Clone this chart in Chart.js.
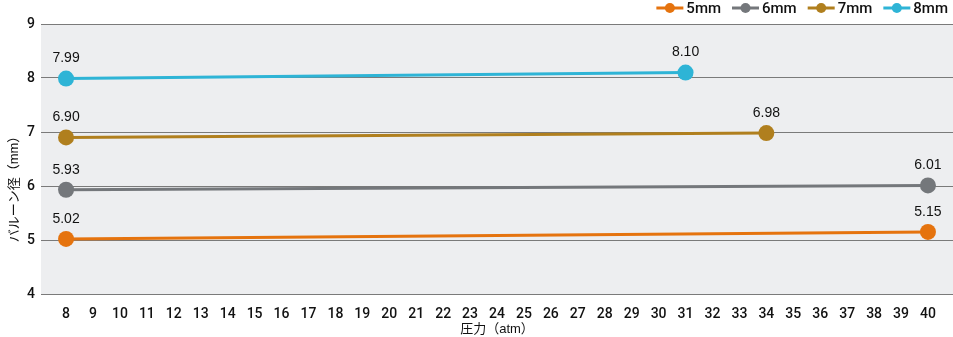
<!DOCTYPE html>
<html>
<head>
<meta charset="utf-8">
<script src="https://cdn.jsdelivr.net/npm/chart.js@4/dist/chart.umd.min.js"></script>
<style>
  body { margin: 0; background: #fff; }
  #wrap { width: 953px; height: 337px; }
</style>
</head>
<body>
<div id="wrap"><canvas id="balloon_chart"></canvas></div>
<script>
const series_names = ['5mm', '6mm', '7mm', '8mm']
const series_colors = ['#E5730E', '#74777B', '#B07F1E', '#2EB4D6']
// pressure (atm) at first / last point of each series
const pressure_5mm = [8, 40]
const pressure_6mm = [8, 40]
const pressure_7mm = [8, 34]
const pressure_8mm = [8, 31]
// balloon diameter (mm)
const diameter_5mm = [5.02, 5.15]
const diameter_6mm = [5.93, 6.01]
const diameter_7mm = [6.90, 6.98]
const diameter_8mm = [7.99, 8.10]
const x_ticks = [8, 9, 10, 11, 12, 13, 14, 15, 16, 17, 18, 19, 20, 21, 22, 23, 24,
    25, 26, 27, 28, 29, 30, 31, 32, 33, 34, 35, 36, 37, 38, 39, 40]
const y_ticks = [4, 5, 6, 7, 8, 9]
const x_title = '圧力（atm）'
const y_title = 'バルーン径（mm）'

const font_family = '"Liberation Sans", "Noto Sans CJK JP", sans-serif'
const tick_family = 'Roboto, "Liberation Sans", sans-serif'
const text_color = '#111'

const pressures = [pressure_5mm, pressure_6mm, pressure_7mm, pressure_8mm]
const diameters = [diameter_5mm, diameter_6mm, diameter_7mm, diameter_8mm]

const datasets = series_names.map((name, i) => ({
    label: name,
    data: pressures[i].map((p, j) => ({ x: p, y: diameters[i][j] })),
    borderColor: series_colors[i],
    backgroundColor: series_colors[i],
    borderWidth: 3,
    pointRadius: 8,
    pointHoverRadius: 8,
    pointBorderWidth: 0
}))

// grey plot background, value labels, axis titles and legend
const decorations = {
    id: 'decorations',
    beforeDraw(chart) {
        const { ctx, chartArea: a } = chart
        ctx.save()
        ctx.fillStyle = '#EDEEF0'
        ctx.fillRect(a.left, a.top, a.right - a.left, a.bottom - a.top)
        ctx.restore()
    },
    afterDatasetsDraw(chart) {
        const { ctx, chartArea: a } = chart
        ctx.save()
        ctx.fillStyle = text_color
        ctx.textAlign = 'center'
        ctx.textBaseline = 'middle'
        ctx.font = '14px ' + font_family
        chart.data.datasets.forEach((ds, i) => {
            chart.getDatasetMeta(i).data.forEach((pt, j) => {
                ctx.fillText(ds.data[j].y.toFixed(2), pt.x, pt.y - 20)
            })
        })

        // axis titles
        ctx.font = '13px ' + font_family
        ctx.fillText(x_title, (a.left + a.right) / 2, a.bottom + 35)
        ctx.save()
        ctx.translate(14, a.top + 162)
        ctx.rotate(-Math.PI / 2)
        ctx.fillText(y_title, 0, 0)
        ctx.restore()

        // legend, right aligned
        ctx.font = '500 15px ' + tick_family
        ctx.textAlign = 'left'
        const sym = 27, gap = 3, sep = 11, ly = 8
        const widths = chart.data.datasets.map(ds => sym + gap + ctx.measureText(ds.label).width)
        let x = 948 - widths.reduce((s, w) => s + w, 0) - sep * (widths.length - 1)
        chart.data.datasets.forEach((ds, i) => {
            ctx.strokeStyle = ds.borderColor
            ctx.fillStyle = ds.borderColor
            ctx.lineWidth = 3
            ctx.beginPath()
            ctx.moveTo(x, ly)
            ctx.lineTo(x + sym, ly)
            ctx.stroke()
            ctx.beginPath()
            ctx.arc(x + sym / 2, ly, 5, 0, Math.PI * 2)
            ctx.fill()
            ctx.fillStyle = text_color
            ctx.fillText(ds.label, x + sym + gap, ly + 1)
            x += widths[i] + sep
        })
        ctx.restore()
    }
}

new Chart(document.querySelector('#balloon_chart'), {
    type: 'line',
    data: { datasets: datasets },
    options: {
        responsive: true,
        maintainAspectRatio: false,
        animation: false,
        layout: { autoPadding: false, padding: { top: 24, left: 0, right: 0, bottom: 0 } },
        plugins: {
            legend: { display: false },
            tooltip: { enabled: false }
        },
        scales: {
            x: {
                type: 'linear',
                min: x_ticks[0] - 0.93,
                max: x_ticks[x_ticks.length - 1] + 0.93,
                afterBuildTicks: scale => { scale.ticks = x_ticks.map(v => ({ value: v })) },
                afterFit: scale => {
                    scale.height = 43
                    scale.paddingLeft = 0
                    scale.paddingRight = 0
                },
                grid: { display: false },
                border: { display: false },
                ticks: {
                    padding: 4,
                    maxRotation: 0,
                    autoSkip: false,
                    color: text_color,
                    font: { family: tick_family, size: 14, weight: '500' }
                }
            },
            y: {
                min: y_ticks[0],
                max: y_ticks[y_ticks.length - 1],
                afterBuildTicks: scale => { scale.ticks = y_ticks.map(v => ({ value: v })) },
                afterFit: scale => { scale.width = 41 },
                grid: { color: '#7A7A7A', lineWidth: 1, drawTicks: false },
                border: { display: false },
                ticks: {
                    padding: 6,
                    color: text_color,
                    font: { family: tick_family, size: 14, weight: '500' }
                }
            }
        }
    },
    plugins: [decorations]
})
</script>
</body>
</html>
